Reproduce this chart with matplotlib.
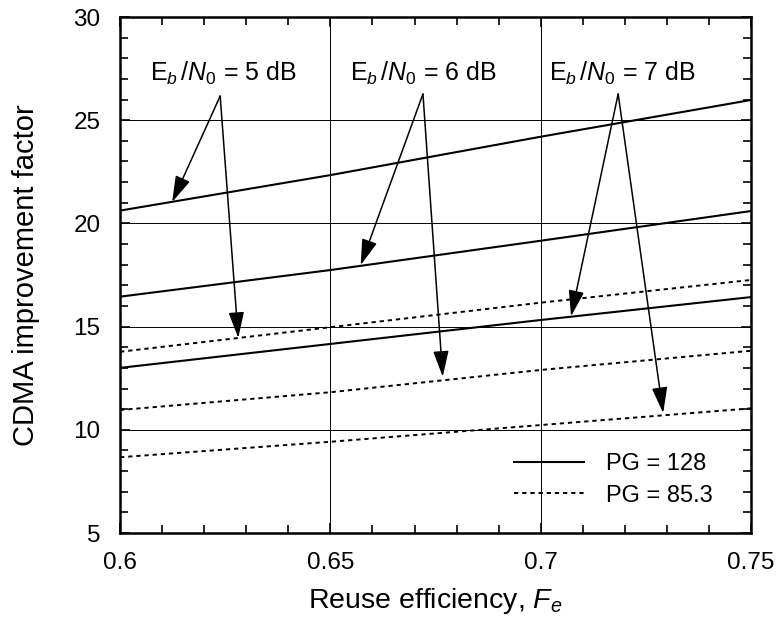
import numpy as np
import matplotlib
matplotlib.use('Agg')
import matplotlib.pyplot as plt
from matplotlib.ticker import MultipleLocator

plt.rcParams['font.family'] = ['Liberation Sans', 'DejaVu Sans']
plt.rcParams['mathtext.fontset'] = 'custom'
plt.rcParams['mathtext.rm'] = 'Liberation Sans'
plt.rcParams['mathtext.it'] = 'Liberation Sans:italic'

fe = [0.60, 0.65, 0.70, 0.75]

# PG = 128 (solid)
pg128_5db = [20.62, 22.34, 24.20, 25.98]
pg128_6db = [16.45, 17.74, 19.16, 20.60]
pg128_7db = [13.00, 14.16, 15.32, 16.43]

# PG = 85.3 (dotted)
pg85_5db = [13.78, 14.97, 16.16, 17.26]
pg85_6db = [10.96, 11.82, 12.90, 13.83]
pg85_7db = [8.67, 9.42, 10.23, 11.04]

# annotation labels: text position, arrow start, two arrow tips
ebn0_labels = [r'E$_b\,/N_0$ = 5 dB', r'E$_b\,/N_0$ = 6 dB', r'E$_b\,/N_0$ = 7 dB']
label_pos = [(0.6245, 27.25), (0.6720, 27.25), (0.7193, 27.25)]
arrow_start = [(0.6238, 26.17), (0.6720, 26.27), (0.7184, 26.27)]
arrow_tip_solid = [(0.6124, 21.04), (0.6572, 17.98), (0.7072, 15.50)]
arrow_tip_dotted = [(0.6281, 14.45), (0.6767, 12.57), (0.7291, 10.81)]

fig = plt.figure(figsize=(7.82, 6.25), dpi=100)
ax = fig.add_axes([0.1535, 0.1472, 0.807, 0.8256])

dot = (0, (2.2, 2.0))
l1, = ax.plot(fe, pg128_5db, color='k', lw=1.5)
ax.plot(fe, pg128_6db, color='k', lw=1.5)
ax.plot(fe, pg128_7db, color='k', lw=1.5)
l2, = ax.plot(fe, pg85_5db, color='k', lw=1.4, linestyle=dot)
ax.plot(fe, pg85_6db, color='k', lw=1.4, linestyle=dot)
ax.plot(fe, pg85_7db, color='k', lw=1.4, linestyle=dot)

for lab, pos, start, t1, t2 in zip(ebn0_labels, label_pos, arrow_start,
                                   arrow_tip_solid, arrow_tip_dotted):
    ax.text(pos[0], pos[1], lab, ha='center', va='center', fontsize=18)
    for tip in (t1, t2):
        ax.annotate('', xy=tip, xytext=start,
                    arrowprops=dict(arrowstyle='-|>,head_length=1.0,head_width=0.3',
                                    color='k', lw=1.1, shrinkA=0, shrinkB=0,
                                    mutation_scale=16))

ax.set_xlim(0.6, 0.75)
ax.set_ylim(5, 30)
ax.set_xticks([0.6, 0.65, 0.7, 0.75])
ax.set_xticklabels(['0.6', '0.65', '0.7', '0.75'])
ax.set_yticks([5, 10, 15, 20, 25, 30])
ax.xaxis.set_minor_locator(MultipleLocator(0.01))
ax.yaxis.set_minor_locator(MultipleLocator(1))
ax.tick_params(which='both', direction='in', top=True, right=True)
ax.tick_params(which='major', length=7, width=1.2, labelsize=17.5, pad=14)
ax.tick_params(which='minor', length=6, width=1.2)
ax.grid(True, which='major', color='k', lw=0.7)
for s in ax.spines.values():
    s.set_linewidth(1.8)

ax.set_xlabel(r'Reuse efficiency, $F_e$', fontsize=20.5, labelpad=8)
ax.set_ylabel('CDMA improvement factor', fontsize=21, labelpad=24)

ax.legend([l1, l2], ['PG = 128', 'PG = 85.3'], loc='lower left',
          bbox_to_anchor=(0.59, 0.01), frameon=False, fontsize=17,
          handlelength=3.0, handletextpad=0.9, labelspacing=0.4)

fig.savefig('out.png', dpi=100)
